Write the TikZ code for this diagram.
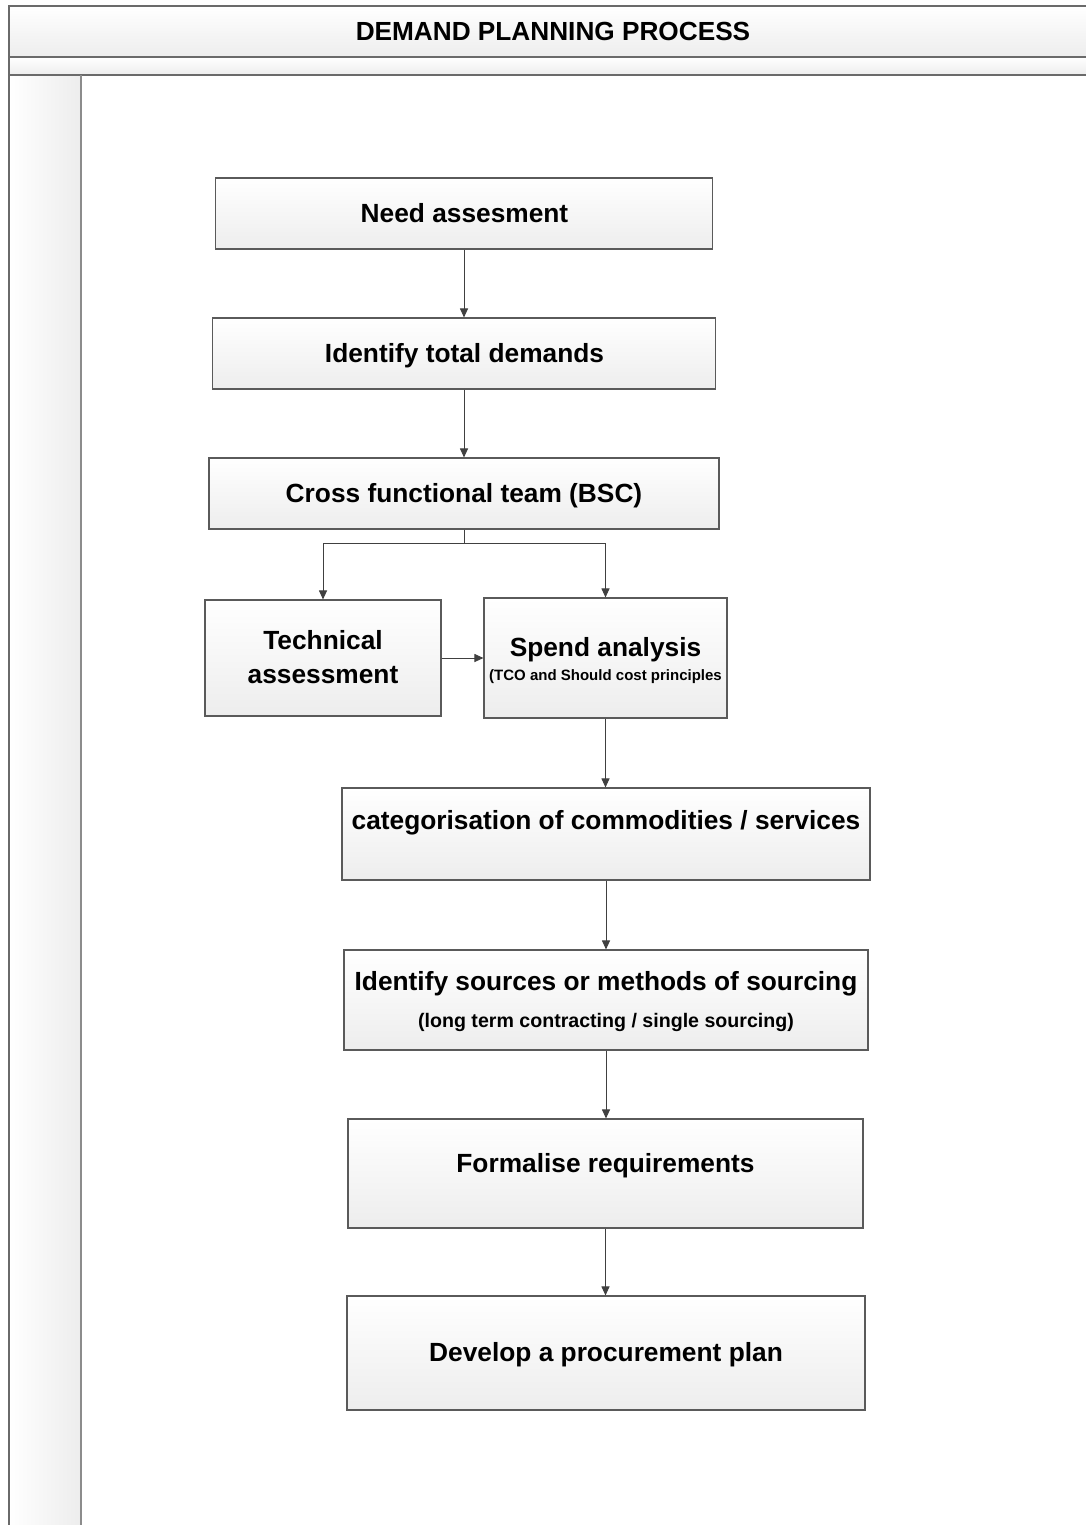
\documentclass[tikz,border=0pt]{standalone}
\usepackage{fontspec}
\setmainfont{Liberation Sans}
\usetikzlibrary{arrows.meta}
\definecolor{frameline}{HTML}{6A6A6A}
\definecolor{laneline}{HTML}{8C8C8C}
\definecolor{boxline}{HTML}{5A5A5A}
\definecolor{boxbot}{HTML}{EDEDED}
\definecolor{arrowc}{HTML}{404040}
\tikzset{
  procbox/.style={draw=boxline, line width=1.1pt, top color=white, bottom color=boxbot, inner sep=0pt},
  bigtxt/.style={font=\fontsize{26.3}{34}\selectfont\bfseries, align=center, inner sep=0pt},
  smalltxt/.style={font=\fontsize{15}{18}\selectfont\bfseries, inner sep=0pt},
  midtxt/.style={font=\fontsize{19.6}{22}\selectfont\bfseries, inner sep=0pt},
  arr/.style={draw=arrowc, line width=1pt, -{Triangle[length=9pt,width=8pt]}},
}
\begin{document}
\begin{tikzpicture}[x=1pt,y=-1pt]
\useasboundingbox (0,0) rectangle (1086,1525);
% header band and lane
\fill[top color=white, bottom color=boxbot] (9,6) rectangle (1086,57);
\fill[top color=white, bottom color=boxbot] (9,57) rectangle (1086,75);
\fill[left color=white, right color=boxbot] (9,75) rectangle (81,1525);
\draw[frameline, line width=1.6pt] (9,1525) -- (9,6) -- (1086,6);
\draw[frameline, line width=1.6pt] (9,57) -- (1086,57);
\draw[frameline, line width=1.6pt] (9,75) -- (1086,75);
\draw[laneline, line width=1.8pt] (81,75) -- (81,1525);
\node[font=\fontsize{26.2}{30}\selectfont\bfseries, inner sep=0pt] (title) at (553,31) {DEMAND PLANNING PROCESS};
% boxes
\node[procbox, minimum width=497pt, minimum height=71pt] (b1) at (464,213.5) {};
\node[procbox, minimum width=503pt, minimum height=71pt] (b2) at (464,353.5) {};
\node[procbox, minimum width=510pt, minimum height=71pt] (b3) at (464,493.5) {};
\node[procbox, minimum width=236pt, minimum height=116pt] (b4) at (323,658) {};
\node[procbox, minimum width=243pt, minimum height=120pt] (b5) at (605.5,658) {};
\node[procbox, minimum width=528pt, minimum height=92pt] (b6) at (606,834) {};
\node[procbox, minimum width=524pt, minimum height=100pt] (b7) at (606,1000) {};
\node[procbox, minimum width=515pt, minimum height=109pt] (b8) at (605.5,1173.5) {};
\node[procbox, minimum width=518pt, minimum height=114pt] (b9) at (606,1353) {};
% texts
\node[bigtxt, anchor=base] (t1) at (464.5,222.5) {Need assesment};
\node[bigtxt, anchor=base] (t2) at (464.5,362.5) {Identify total demands};
\node[bigtxt, anchor=base] (t3) at (464,502.5) {Cross functional team (BSC)};
\node[bigtxt, anchor=base] (t4a) at (323,649.5) {Technical};
\node[bigtxt, anchor=base] (t4b) at (323,683.5) {assessment};
\node[bigtxt, anchor=base] (t5a) at (605.5,656.5) {Spend analysis};
\node[smalltxt, anchor=base] (t5b) at (605.5,680.5) {(TCO and Should cost principles};
\node[bigtxt, anchor=base] (t6) at (606,829.5) {categorisation of commodities / services};
\node[bigtxt, anchor=base] (t7a) at (606,990.5) {Identify sources or methods of sourcing};
\node[midtxt, anchor=base] (t7b) at (606,1027) {(long term contracting / single sourcing)};
\node[bigtxt, anchor=base] (t8) at (605.5,1172.5) {Formalise requirements};
\node[bigtxt, anchor=base] (t9) at (606,1361.5) {Develop a procurement plan};
% connectors
\draw[arr] (b1) -- (b2);
\draw[arr] (b2) -- (b3);
\coordinate (split) at (464,543);
\draw[draw=arrowc, line width=1pt] (b3.south) -- (split);
\draw[arr] (split) -| (b4.north);
\draw[arr] (split) -| (b5.north);
\draw[arr] (b4) -- (b5);
\draw[arr] (b5.south) -- (b5.south |- b6.north);
\draw[arr] (b6.south) -- (b6.south |- b7.north);
\draw[arr] (b7.south) -- (b7.south |- b8.north);
\draw[arr] (b8.south) -- (b8.south |- b9.north);
\end{tikzpicture}
\end{document}
